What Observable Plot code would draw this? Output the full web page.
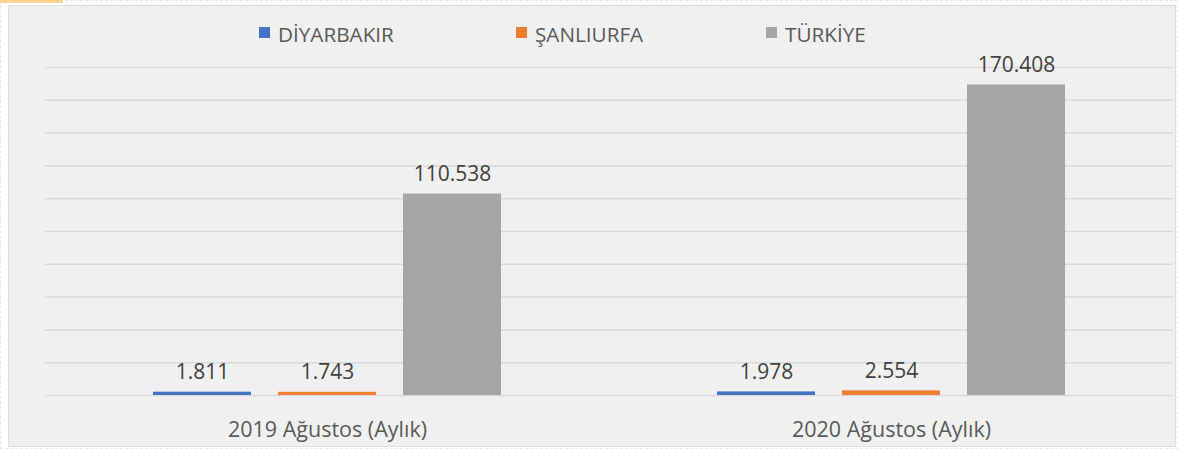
<!DOCTYPE html>
<html>
<head>
<meta charset="utf-8">
<script src="https://cdn.jsdelivr.net/npm/d3@7"></script>
<script src="https://cdn.jsdelivr.net/npm/@observablehq/plot@0.6"></script>
<style>
  html, body { margin: 0; padding: 0; background: #ffffff; }
  #wrap { position: relative; width: 1178px; height: 449px; overflow: hidden; background: #ffffff; font-family: "Open Sans", sans-serif; }
  #outer { position: absolute; left: 0; top: 0; width: 1176px; height: 447px; border: 1px dashed #e8e8e8; }
  #strip { position: absolute; left: 0; top: 0; width: 63px; height: 3px; background: #fbd28f; }
  #panel { position: absolute; left: 8px; top: 5px; width: 1166px; height: 440px; background: #f0f0f0; border: 1px solid #dedede; }
  #chart { position: absolute; left: 0; top: 0; }
  .lg-sw { position: absolute; top: 27px; width: 11px; height: 11px; }
  .lg-tx { position: absolute; top: 20px; font-size: 20.7px; line-height: normal; color: #595959; white-space: nowrap; }
</style>
</head>
<body>
<div id="wrap">
  <div id="outer"></div>
  <div id="strip"></div>
  <div id="panel"></div>
  <div id="chart"></div>
</div>
<script>
const categories = ["2019 Ağustos (Aylık)", "2020 Ağustos (Aylık)"];
const regions = ["DİYARBAKIR", "ŞANLIURFA", "TÜRKİYE"];
const diyarbakir = [1811, 1978];
const sanliurfa = [1743, 2554];
const turkiye = [110538, 170408];
const gridTicks = [0, 18000, 36000, 54000, 72000, 90000, 108000, 126000, 144000, 162000, 180000];
const colors = ["#4472C4", "#ED7D31", "#A5A5A5"];

const series = [diyarbakir, sanliurfa, turkiye];
const data = categories.flatMap((c, i) =>
  regions.map((r, j) => ({ period: c, region: r, value: series[j][i] }))
);

const trFormat = d3.formatLocale({ decimal: ",", thousands: ".", grouping: [3], currency: ["", "₺"] }).format(",d");

const plot = Plot.plot({
  width: 1178,
  height: 449,
  marginLeft: 45,
  marginRight: 5,
  marginTop: 67,
  marginBottom: 54,
  style: { background: "transparent", fontFamily: "Open Sans, sans-serif" },
  fx: { domain: categories, padding: 0, label: null, axis: null },
  x: { domain: regions, axis: null, paddingInner: 0.216, paddingOuter: 0.864 },
  y: { domain: [0, 180000], axis: null },
  color: { domain: regions, range: colors },
  marks: [
    Plot.ruleY(gridTicks, { stroke: "#d9d9d9", strokeWidth: 1.5 }),
    Plot.barY(data, { fx: "period", x: "region", y: "value", fill: "region" }),
    Plot.text(data, {
      fx: "period", x: "region", y: "value",
      text: d => trFormat(d.value),
      lineAnchor: "bottom", dy: -13, fontSize: 21, fill: "#404040"
    }),
    Plot.axisFx({ anchor: "bottom", tickSize: 0, tickPadding: 26, fontSize: 21.5, fill: "#595959", label: null })
  ]
});
document.getElementById("chart").appendChild(plot);

// Legend (HTML), swatch colours from the plot's color scale
const colorScale = plot.scale("color");
const wrap = document.getElementById("wrap");
const legendLefts = [259, 516, 766];
regions.forEach((r, i) => {
  const sw = document.createElement("div");
  sw.className = "lg-sw";
  sw.style.left = legendLefts[i] + "px";
  sw.style.background = colorScale.apply(r);
  wrap.appendChild(sw);
  const tx = document.createElement("div");
  tx.className = "lg-tx";
  tx.style.left = (legendLefts[i] + 19) + "px";
  tx.textContent = r;
  wrap.appendChild(tx);
});
</script>
</body>
</html>
